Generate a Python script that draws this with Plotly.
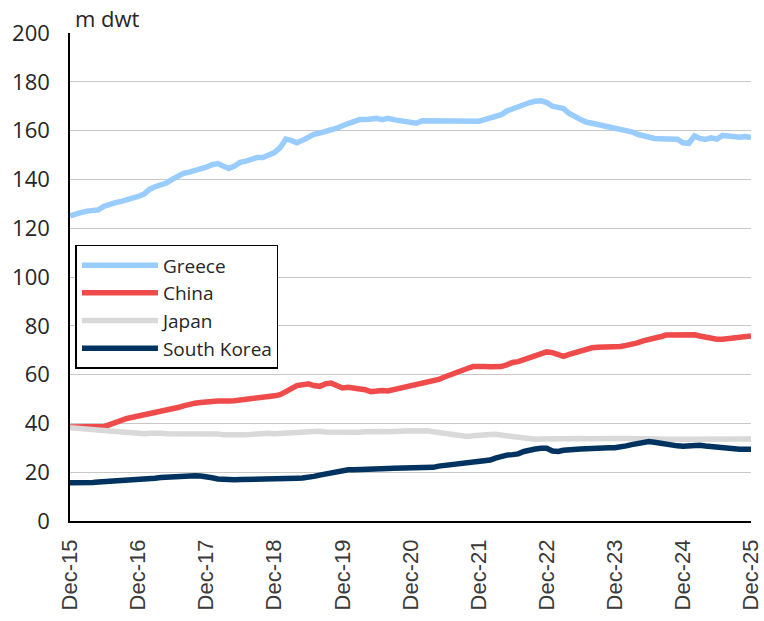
import pandas as pd
import plotly.graph_objects as go

# Monthly fleet ownership, million dwt, Dec-2015 .. Dec-2025
months = pd.date_range("2015-12-01", "2025-12-01", freq="MS")

greece = [
    125, 126, 126.5, 127, 127.3, 127.5, 129, 130, 130.5, 131, 131.5, 132.5,
    133, 134, 136, 137, 137.5, 138.5, 140, 141.5, 142.5, 143, 143.5, 144,
    145, 146, 146.5, 145.5, 144.5, 145.5, 147, 147.5, 148.5, 149, 149, 150,
    151, 153, 156.5, 156, 155, 156, 157.5, 158.5, 159, 159.5, 160.5, 161,
    162, 163, 164, 164.5, 164.5, 165, 165, 164.5, 165, 164.5, 164, 164,
    163.5, 163, 164, 164, 163.5, 163.5, 163.5, 163.5, 164, 164, 163.5, 164,
    163.8, 164.5, 165, 166, 166.5, 168, 169, 170, 171, 171.5, 172, 172.2,
    171.5, 170, 169.5, 169, 167, 165.5, 164.5, 163.5, 163, 162.5, 162.2, 162,
    161.5, 161, 160, 159.5, 158.5, 157.8, 157, 156.8, 156.7, 156.8, 156.7, 156.5,
    155, 154.8, 157.8, 156.8, 156.4, 157, 156.5, 158, 157.8, 157.5, 157.3, 157.6,
    157.1,
]

china = [
    38.5, 38.5, 38.5, 38.5, 38.5, 38.7, 38.7, 39.5, 40.5, 41.5, 42, 42.5,
    43, 43.5, 44, 44.2, 44.5, 45.5, 46, 46.5, 47.2, 48, 48.3, 48.6,
    49, 49, 49.2, 49, 49.2, 49.3, 49.5, 49.8, 50, 50.3, 50.6, 51,
    51.3, 51.8, 53, 54.5, 55.5, 55.8, 56.2, 55.5, 55.2, 56.2, 56.5, 55.5,
    54.5, 54.8, 54.5, 54, 53.8, 53, 53.5, 53.5, 53.3, 53.8, 54.3, 54.8,
    55.2, 55.5, 56, 56.5, 57.2, 58, 59, 60, 61, 62, 62.5, 63.3,
    63.5, 63.3, 63.2, 63.2, 63.3, 64, 65, 65.3, 66.2, 67, 68, 68.8,
    69.3, 69, 68, 67.5, 68.3, 69, 69.5, 70.3, 71, 71.2, 71.3, 71.3,
    71.2, 71.5, 72, 72.3, 73, 73.8, 74.2, 75, 75.5, 76.2, 76.3, 76.2,
    76.3, 76.2, 76.3, 75.8, 75.3, 75, 74.5, 74.5, 74.8, 75.2, 75.5, 75.8,
    75.8,
]

japan = [
    38.2, 38, 37.8, 37.6, 37.5, 37.3, 37, 36.8, 36.5, 36.2, 36, 36,
    35.8, 35.8, 36, 36.2, 36, 35.8, 35.8, 36, 36, 36.1, 36, 35.8,
    36.2, 36, 35.7, 35.3, 35.2, 35.4, 35.5, 35.3, 35.5, 35.7, 36, 36,
    35.8, 35.9, 36, 36.2, 36.3, 36.5, 36.8, 36.9, 36.8, 36.5, 36.4, 36.5,
    36.6, 36.5, 36.3, 36.4, 36.6, 36.8, 36.9, 36.7, 36.6, 36.8, 37, 37.1,
    37, 36.9, 37.1, 37, 36.6, 36.2, 36, 35.8, 35.4, 34.8, 34.6, 34.9,
    35.2, 35.3, 35.4, 35.5, 35.2, 35, 34.8, 34.5, 34, 33.6, 33.5, 33.6,
    33.7, 33.8, 33.8, 33.8, 33.9, 33.8, 33.8, 33.7, 33.8, 33.8, 33.8, 33.7,
    33.7, 33.8, 33.8, 33.7, 33.6, 33.6, 33.7, 33.6, 33.6, 33.5, 33.5, 33.5,
    33.5, 33.4, 33.4, 33.5, 33.5, 33.4, 33.3, 33.3, 33.4, 33.5, 33.6, 33.6,
    33.6,
]

south_korea = [
    15.7, 15.6, 15.5, 15.7, 15.8, 16, 16.1, 16.2, 16.3, 16.5, 16.7, 16.8,
    16.9, 17, 17.2, 17.5, 17.8, 18, 18.2, 18.3, 18.4, 18.4, 18.5, 18.4,
    18.2, 17.7, 17.2, 17, 16.9, 16.9, 17, 17, 17.1, 17.2, 17.2, 17.3,
    17.3, 17.3, 17.3, 17.4, 17.5, 17.6, 17.8, 18.3, 18.8, 19.3, 20, 20.5,
    20.8, 21, 21, 21, 21.1, 21.2, 21.2, 21.3, 21.5, 21.6, 21.6, 21.6,
    21.6, 21.6, 21.7, 21.8, 22, 22.5, 22.8, 23, 23.2, 23.5, 23.8, 24,
    24.2, 24.5, 25, 25.8, 26.5, 27, 27.2, 27.5, 28.5, 29.3, 29.5, 29.8,
    29.8, 28.7, 28.5, 29, 29.3, 29.4, 29.5, 29.6, 29.8, 29.8, 29.9, 30,
    30, 30.2, 30.8, 31.3, 31.8, 32.3, 32.6, 32.3, 31.8, 31.5, 31.2, 30.8,
    30.6, 30.8, 31.1, 31, 30.7, 30.4, 30.1, 29.8, 29.5, 29.4, 29.4, 29.4,
    29.4,
]

series = [
    ("Greece", greece, "#99ccff"),
    ("China", china, "#f04b4b"),
    ("Japan", japan, "#d9d9d9"),
    ("South Korea", south_korea, "#00335f"),
]

tick_dates = pd.date_range("2015-12-01", "2025-12-01", freq="12MS")
tick_text = [d.strftime("Dec-%y") for d in tick_dates]
y_ticks = list(range(0, 201, 20))

label_font = "Open Sans, Lato, sans-serif"
text_color = "#262626"

fig = go.Figure()
for name, values, color in series:
    fig.add_trace(go.Scatter(
        x=months, y=values, name=name, mode="lines",
        line=dict(color=color, width=5.5),
    ))

fig.update_layout(
    width=764, height=621,
    margin=dict(l=70, r=13, t=33, b=100),
    paper_bgcolor="white", plot_bgcolor="white",
    showlegend=True,
    legend=dict(
        x=0.008, y=0.566, xanchor="left", yanchor="top",
        bgcolor="white", bordercolor="black", borderwidth=1.5,
        font=dict(family=label_font, size=19, color=text_color),
        itemwidth=76, tracegroupgap=0,
        entrywidth=150, entrywidthmode="pixels",
    ),
    annotations=[dict(
        text="m dwt", xref="paper", yref="paper", x=0.005, y=1.0,
        xanchor="left", yanchor="bottom", yshift=-2, showarrow=False,
        font=dict(family=label_font, size=22, color=text_color),
    )],
)

fig.update_xaxes(
    range=[months[0], months[-1]], automargin=False,
    tickvals=tick_dates, ticktext=tick_text, tickangle=-90,
    tickfont=dict(family="Liberation Sans, Arial, sans-serif", size=22, color="#3a3a3a"),
    ticklabelstandoff=8, ticklabeloverflow="allow",
    showgrid=False, showline=True, linecolor="black", linewidth=1.5,
    ticks="", zeroline=False,
)
fig.update_yaxes(
    range=[0, 200], tickvals=y_ticks, automargin=False,
    tickfont=dict(family=label_font, size=22, color=text_color),
    ticklabelstandoff=14,
    showgrid=True, gridcolor="#c8c8c8", gridwidth=1,
    showline=True, linecolor="black", linewidth=1.5,
    ticks="", zeroline=False,
)

fig.write_html("out.html")
